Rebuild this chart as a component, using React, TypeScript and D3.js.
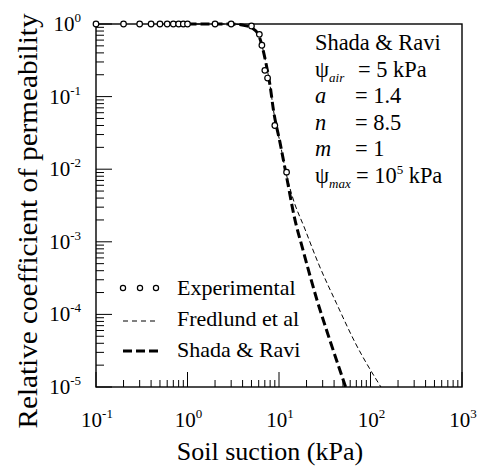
import React from 'react';
import * as d3 from 'd3';

// experimental data (suction in kPa, relative permeability)
const expSuction = [0.1, 0.2, 0.3, 0.4, 0.5, 0.6, 0.7, 0.8, 0.9, 1.0, 2, 3, 5.0, 6.1, 6.5, 7.0, 7.5, 9.0, 12.1];
const expKr = [1, 1, 1, 1, 1, 1, 1, 1, 1, 1, 1, 1, 0.94, 0.72, 0.51, 0.23, 0.18, 0.04, 0.0091];

// Shada & Ravi curve
const shadaSuction = [1, 3, 4.25, 5.07, 5.9, 6.5, 7.2, 8.0, 8.7, 10.3, 12.1, 14.7, 18.3, 26, 36, 53.5];
const shadaKr = [1, 1, 0.95, 0.88, 0.73, 0.51, 0.29, 0.14, 0.065, 0.0227, 0.0079, 0.0022, 7.7e-4, 1.58e-4, 4.4e-5, 1e-5];

// Fredlund et al curve
const fredSuction = [1, 3, 4.25, 5.07, 5.9, 6.5, 7.2, 8.0, 8.7, 10.3, 11.8, 14.0, 19.2, 27, 42.7, 68.5, 130];
const fredKr = [1, 1, 0.95, 0.88, 0.73, 0.51, 0.29, 0.14, 0.065, 0.0227, 0.0095, 0.0042, 0.0015, 5.0e-4, 1.4e-4, 4.0e-5, 1e-5];

const xTickExps = [-1, 0, 1, 2, 3];
const yTickExps = [0, -1, -2, -3, -4, -5];

const legendLabels = ['Experimental', 'Fredlund et al', 'Shada & Ravi'];

const W = 479, H = 466;
const FONT = "'Liberation Serif', 'Times New Roman', serif";

// text with the serif font set on the element itself
function T(props: any) {
  const { style, ...rest } = props;
  return <text {...rest} style={{ fontFamily: FONT, ...(style || {}) }} />;
}

export default function App() {
  const left = 96, right = 462, top = 24, bottom = 387;
  const x = d3.scaleLog().domain([0.1, 1000]).range([left, right]);
  const y = d3.scaleLog().domain([1e-5, 1]).range([bottom, top]);

  const line = d3.line<[number, number]>()
    .x(d => x(d[0]))
    .y(d => y(d[1]))
    .curve(d3.curveMonotoneX);

  const shadaPts = shadaSuction.map((s, i) => [s, shadaKr[i]] as [number, number]);
  const fredPts = fredSuction.map((s, i) => [s, fredKr[i]] as [number, number]);

  // minor ticks at 2..9 of each decade
  const minorX: number[] = [];
  for (let e = -1; e < 3; e++) for (let k = 2; k <= 9; k++) minorX.push(k * Math.pow(10, e));
  const minorY: number[] = [];
  for (let e = -5; e < 0; e++) for (let k = 2; k <= 9; k++) minorY.push(k * Math.pow(10, e));

  const annX = 315, eqX = 355, annY0 = 50, annStep = 26.6;
  const annFs = 22.4;

  return (
    <svg width={W} height={H} style={{ position: 'absolute', left: 0, top: 0, background: '#fff' }}>
      <defs>
        <clipPath id="plotClip">
          <rect x={left} y={top - 3} width={right - left} height={bottom - top + 3} />
        </clipPath>
      </defs>

      {/* ticks bottom */}
      {xTickExps.map(e => (
        <line key={'xM' + e} x1={x(Math.pow(10, e))} x2={x(Math.pow(10, e))} y1={bottom} y2={bottom - 15} stroke="#000" strokeWidth={1} />
      ))}
      {minorX.map((v, i) => (
        <line key={'xm' + i} x1={x(v)} x2={x(v)} y1={bottom} y2={bottom - 7} stroke="#000" strokeWidth={1} />
      ))}
      {/* ticks left */}
      {yTickExps.map(e => (
        <line key={'yM' + e} x1={left} x2={left + 16} y1={y(Math.pow(10, e))} y2={y(Math.pow(10, e))} stroke="#000" strokeWidth={1} />
      ))}
      {minorY.map((v, i) => (
        <line key={'ym' + i} x1={left} x2={left + 8} y1={y(v)} y2={y(v)} stroke="#000" strokeWidth={1} />
      ))}

      {/* frame */}
      <rect x={left} y={top} width={right - left} height={bottom - top} fill="none" stroke="#000" strokeWidth={1.4} />

      {/* tick labels */}
      {xTickExps.map(e => (
        <T key={'xl' + e} x={x(Math.pow(10, e)) + 1} y={427} fontSize={21} textAnchor="middle">
          10<tspan fontSize={13} dy={-9}>{e}</tspan>
        </T>
      ))}
      {yTickExps.map(e => (
        <T key={'yl' + e} x={81} y={y(Math.pow(10, e)) + 7} fontSize={21} textAnchor="end">
          10<tspan fontSize={13} dy={-9}>{e}</tspan>
        </T>
      ))}

      {/* axis titles */}
      <T x={270} y={460} fontSize={26} textAnchor="middle">Soil suction (kPa)</T>
      <T transform="translate(37,221) rotate(-90)" fontSize={28} textAnchor="middle" textLength={415} lengthAdjust="spacingAndGlyphs">
        Relative coefficient of permeability
      </T>

      {/* curves */}
      <g clipPath="url(#plotClip)">
        <path d={line(fredPts) || ''} fill="none" stroke="#000" strokeWidth={1} strokeDasharray="5,3" />
        <path d={line(shadaPts) || ''} fill="none" stroke="#000" strokeWidth={3} strokeDasharray="9,4" />
      </g>

      {/* experimental points */}
      {expSuction.map((s, i) => (
        <circle key={'p' + i} cx={x(s)} cy={y(expKr[i])} r={2.8} fill="#fff" stroke="#000" strokeWidth={1.2} />
      ))}

      {/* annotation */}
      <g fontSize={annFs}>
        <T x={annX} y={annY0}>Shada &amp; Ravi</T>
        <T x={annX} y={annY0 + annStep}>ψ<tspan fontSize={13} fontStyle="italic" dy={5}>air</tspan></T>
        <T x={eqX + 3} y={annY0 + annStep}>= 5 kPa</T>
        <T x={annX} y={annY0 + 2 * annStep} fontStyle="italic">a</T>
        <T x={eqX} y={annY0 + 2 * annStep}>= 1.4</T>
        <T x={annX} y={annY0 + 3 * annStep} fontStyle="italic">n</T>
        <T x={eqX} y={annY0 + 3 * annStep}>= 8.5</T>
        <T x={annX} y={annY0 + 4 * annStep} fontStyle="italic">m</T>
        <T x={eqX} y={annY0 + 4 * annStep}>= 1</T>
        <T x={annX} y={annY0 + 5 * annStep}>ψ<tspan fontSize={13} fontStyle="italic" dy={5}>max</tspan></T>
        <T x={eqX + 1} y={annY0 + 5 * annStep}>= 10<tspan fontSize={13} dy={-9}>5</tspan><tspan dy={9}> kPa</tspan></T>
      </g>

      {/* legend */}
      <g fontSize={22}>
        {[123, 140, 156].map(cx => (
          <circle key={'lc' + cx} cx={cx} cy={288} r={2.6} fill="#fff" stroke="#000" strokeWidth={1.2} />
        ))}
        <line x1={123} x2={157} y1={321} y2={321} stroke="#000" strokeWidth={1} strokeDasharray="5,4" />
        <line x1={123} x2={158} y1={351} y2={351} stroke="#000" strokeWidth={3} strokeDasharray="9,4" />
        {legendLabels.map((t, i) => (
          <T key={t} x={177} y={295 + i * 31}>{t}</T>
        ))}
      </g>
    </svg>
  );
}
